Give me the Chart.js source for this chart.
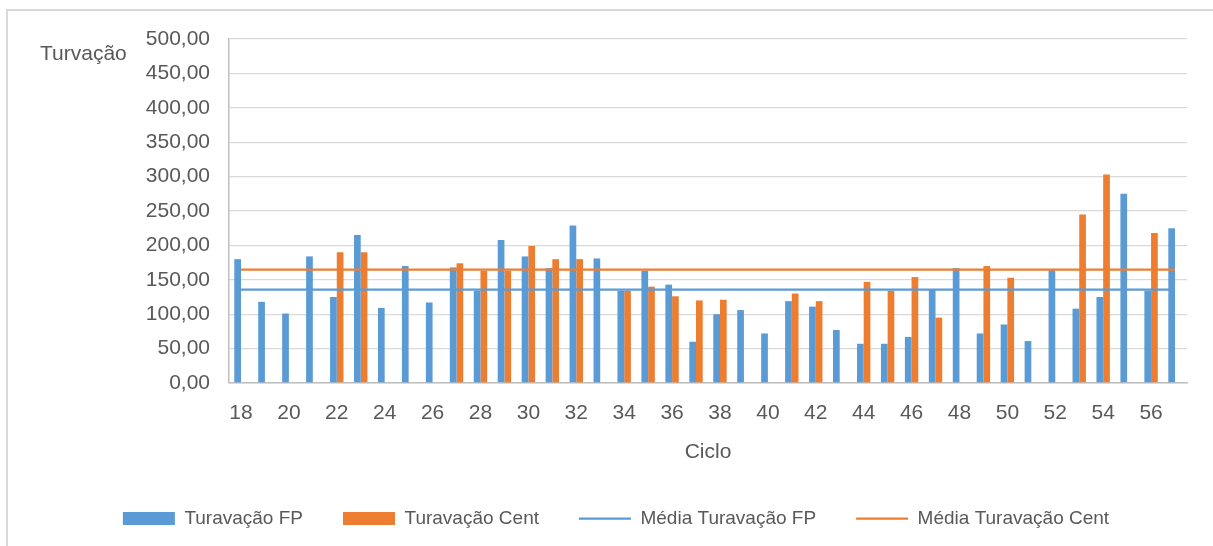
<!DOCTYPE html>
<html lang="pt">
<head>
<meta charset="utf-8">
<title>Turvação por ciclo</title>
<script src="https://cdn.jsdelivr.net/npm/chart.js@4.4.1/dist/chart.umd.min.js"></script>
<style>
  html, body { margin: 0; padding: 0; background: #ffffff; overflow: hidden; }
  #wrap { position: relative; width: 1213px; height: 546px; }
  #frame {
    position: absolute; left: 6px; top: 9px; right: 0; bottom: 0;
    border-left: 2px solid #d9d9d9; border-top: 2px solid #d9d9d9;
    pointer-events: none;
  }
  canvas { position: absolute; left: 0; top: 0; }
</style>
</head>
<body>
<div id="wrap">
  <canvas id="grafico" width="1213" height="546"></canvas>
  <div id="frame"></div>
</div>
<script>
// Ciclos 18 a 57
const ciclos = ['18','19','20','21','22','23','24','25','26','27',
                '28','29','30','31','32','33','34','35','36','37',
                '38','39','40','41','42','43','44','45','46','47',
                '48','49','50','51','52','53','54','55','56','57'];

// Turvação medida na FP
const turvacaoFP = [180, 118, 101, 184, 125, 215, 109, 170, 117, 168,
                    134, 208, 184, 167, 229, 181, 134, 163, 143,  60,
                    100, 106,  72, 119, 111,  77,  57,  57,  67, 136,
                    167,  72,  85,  61, 164, 108, 125, 275, 134, 225];

// Turvação medida na centrífuga (sem valor em alguns ciclos)
const turvacaoCent = [null, null, null, null, 190, 190, null, null, null, 174,
                      163, 163, 199, 180, 180, null, 134, 140, 126, 120,
                      121, null, null, 130, 119, null, 147, 134, 154,  95,
                      null, 170, 153, null, null, 245, 303, null, 218, null];

// Médias de cada série
const mediaFP = 135.6;
const mediaCent = 164.7;

// Marcas do eixo Y
const yMin = 0, yMax = 500, yPasso = 50;

const AZUL = '#5b9bd5';
const LARANJA = '#ed7d31';
const TEXTO = '#595959';
const FONTE = '"Liberation Sans", Arial, sans-serif';

// Título horizontal do eixo Y, no canto superior esquerdo
const tituloEixoY = {
  id: 'tituloEixoY',
  afterDraw(chart) {
    const ctx = chart.ctx;
    ctx.save();
    ctx.font = '21px ' + FONTE;
    ctx.fillStyle = TEXTO;
    ctx.textAlign = 'left';
    ctx.textBaseline = 'alphabetic';
    ctx.fillText('Turvação', 40, 59.5);
    ctx.restore();
  }
};

const linhaMedia = (valor) => [
  { x: ciclos[0], y: valor },
  { x: ciclos[ciclos.length - 1], y: valor }
];

new Chart(document.getElementById('grafico'), {
  type: 'bar',
  data: {
    labels: ciclos,
    datasets: [
      {
        label: 'Turavação FP',
        data: turvacaoFP,
        backgroundColor: AZUL,
        borderWidth: 0,
        categoryPercentage: 0.56,
        barPercentage: 1.0,
        pointStyle: 'rect',
        order: 1
      },
      {
        label: 'Turavação Cent',
        data: turvacaoCent,
        backgroundColor: LARANJA,
        borderWidth: 0,
        categoryPercentage: 0.56,
        barPercentage: 1.0,
        pointStyle: 'rect',
        order: 1
      },
      {
        type: 'line',
        label: 'Média Turavação FP',
        data: linhaMedia(mediaFP),
        borderColor: AZUL,
        backgroundColor: AZUL,
        borderWidth: 2.25,
        pointRadius: 0,
        pointHoverRadius: 0,
        pointStyle: 'line',
        fill: false,
        order: 0
      },
      {
        type: 'line',
        label: 'Média Turavação Cent',
        data: linhaMedia(mediaCent),
        borderColor: LARANJA,
        backgroundColor: LARANJA,
        borderWidth: 2.25,
        pointRadius: 0,
        pointHoverRadius: 0,
        pointStyle: 'line',
        fill: false,
        order: 0
      }
    ]
  },
  options: {
    responsive: false,
    animation: false,
    layout: { padding: { left: 45, right: 26, top: 39, bottom: 8 } },
    plugins: {
      tooltip: { enabled: false },
      legend: {
        position: 'bottom',
        labels: {
          usePointStyle: true,
          pointStyleWidth: 52,
          boxHeight: 13,
          padding: 40,
          color: TEXTO,
          font: { family: FONTE, size: 19 },
          sort: (a, b) => a.datasetIndex - b.datasetIndex
        }
      }
    },
    scales: {
      x: {
        offset: true,
        grid: { display: false, drawTicks: false },
        border: { display: true, color: '#bfbfbf', width: 1.5 },
        ticks: {
          autoSkip: false,
          maxRotation: 0,
          padding: 18,
          color: TEXTO,
          font: { family: FONTE, size: 21 },
          callback: function (valor, indice) {
            return indice % 2 === 0 ? this.getLabelForValue(valor) : '';
          }
        },
        title: {
          display: true,
          text: 'Ciclo',
          color: TEXTO,
          font: { family: FONTE, size: 21 },
          padding: { top: 0, bottom: 4 }
        },
        afterFit(scale) { scale.height = 86; }
      },
      y: {
        min: yMin,
        max: yMax,
        grid: { color: '#d9d9d9', lineWidth: 1.3, drawTicks: false },
        border: { display: true, color: '#bfbfbf', width: 1.5 },
        ticks: {
          stepSize: yPasso,
          padding: 19,
          color: TEXTO,
          font: { family: FONTE, size: 21 },
          callback: (v) => v.toFixed(2).replace('.', ',')
        },
        afterFit(scale) { scale.width = 184; }
      }
    }
  },
  plugins: [tituloEixoY]
});
</script>
</body>
</html>
